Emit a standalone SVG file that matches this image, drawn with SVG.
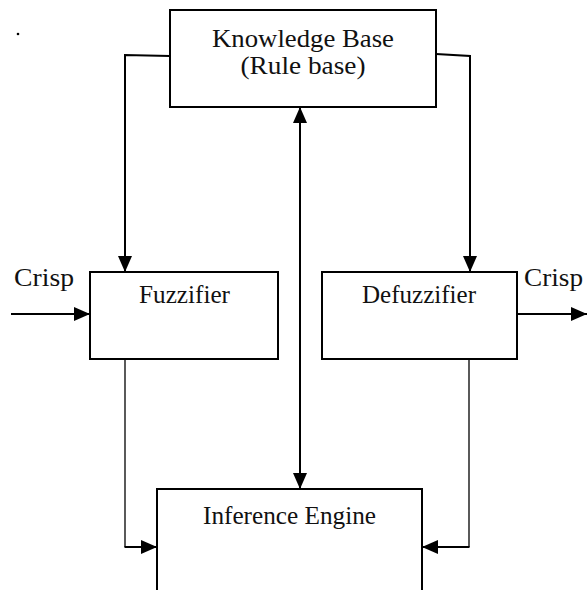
<svg xmlns="http://www.w3.org/2000/svg" width="587" height="590" viewBox="0 0 587 590">
<style>
.box{fill:#fff;stroke:#000;stroke-width:2}
.ln{fill:none;stroke:#000;stroke-width:2}
.thin{fill:none;stroke:#000;stroke-width:1.3}
text{font-family:"Liberation Serif","Times New Roman",Times,serif;font-size:26px;fill:#111}
.c{text-anchor:middle}
</style>
<defs>
<marker id="ah" viewBox="0 0 16 14" refX="16" refY="7" markerWidth="16" markerHeight="14" markerUnits="userSpaceOnUse" orient="auto-start-reverse">
<path d="M0,0 L16,7 L0,14 Z" fill="#000"/>
</marker>
</defs>
<circle cx="18" cy="34" r="1.3" fill="#000"/>
<g id="connectors">
<polyline class="ln" points="170,56 125,55 125,272" marker-end="url(#ah)"/>
<polyline class="ln" points="436,54 470,56 470,272" marker-end="url(#ah)"/>
<line class="ln" x1="300" y1="107" x2="300" y2="489" marker-start="url(#ah)" marker-end="url(#ah)"/>
<line class="ln" x1="11" y1="314" x2="90" y2="314" marker-end="url(#ah)"/>
<line class="ln" x1="517" y1="314" x2="587" y2="314" marker-end="url(#ah)"/>
<polyline class="thin" points="125,359 125,547"/>
<line class="ln" x1="124.5" y1="547" x2="157" y2="547" marker-end="url(#ah)"/>
<polyline class="thin" points="469,359 469,547"/>
<line class="ln" x1="469.5" y1="547" x2="422" y2="547" marker-end="url(#ah)"/>
</g>
<g id="knowledge">
<rect class="box" x="170" y="10" width="266" height="97"/>
<text class="c" x="303" y="47" textLength="182" lengthAdjust="spacingAndGlyphs">Knowledge Base</text>
<text class="c" x="303" y="74" textLength="125" lengthAdjust="spacingAndGlyphs">(Rule base)</text>
</g>
<g id="fuzzifier">
<rect class="box" x="90" y="272" width="188" height="87"/>
<text class="c" x="184.5" y="303" textLength="91" lengthAdjust="spacingAndGlyphs">Fuzzifier</text>
</g>
<g id="defuzzifier">
<rect class="box" x="322" y="272" width="195" height="87"/>
<text class="c" x="419" y="303" textLength="114" lengthAdjust="spacingAndGlyphs">Defuzzifier</text>
</g>
<g id="inference">
<rect class="box" x="157" y="489" width="265" height="120"/>
<text class="c" x="289.5" y="524" textLength="173" lengthAdjust="spacingAndGlyphs">Inference Engine</text>
</g>
<g id="labels">
<text x="14" y="286" textLength="60" lengthAdjust="spacingAndGlyphs">Crisp</text>
<text x="524" y="286" textLength="59" lengthAdjust="spacingAndGlyphs">Crisp</text>
</g>
</svg>
